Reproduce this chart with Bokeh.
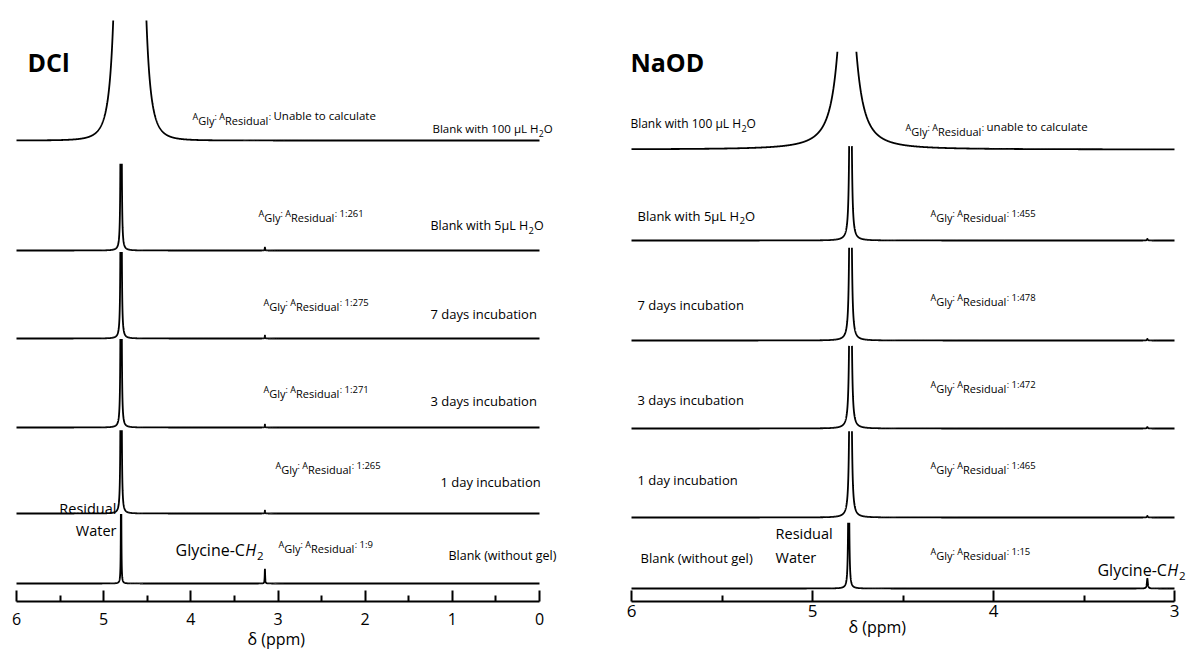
import numpy as np
from bokeh.plotting import figure
from bokeh.models import Range1d, FixedTicker, Label, Title
from bokeh.layouts import row
from bokeh.embed import file_html
from bokeh.resources import INLINE

FONT = "Open Sans"

# ---------------- data ----------------
conditions = ["Blank with 100 μL H2O", "Blank with 5μL H2O", "7 days incubation",
              "3 days incubation", "1 day incubation", "Blank (without gel)"]

# A_Gly : A_Residual integral ratios (None = could not be integrated)
dcl_ratio = [None, 261, 275, 271, 265, 9]
naod_ratio = [None, 455, 478, 472, 465, 15]

# vertical stacking offsets of each trace (intensity, a.u.)
dcl_offset = [461, 351, 263, 174, 88, 18]
naod_offset = [452, 361, 261, 173, 84, 13]

# residual water (HDO) signal
dcl_water_ppm = [4.70, 4.80, 4.80, 4.80, 4.80, 4.80]
dcl_water_height = [25000, 800, 830, 815, 800, 130]
dcl_water_hwhm = [0.052, 0.003, 0.003, 0.003, 0.003, 0.003]
dcl_water_exp = [2.0, 1.0, 1.0, 1.0, 1.0, 1.0]
dcl_visible = [120, 90, 88, 89, 86, 70]

naod_water_ppm = [4.81, 4.79, 4.79, 4.79, 4.79, 4.80]
naod_water_height = [243, 700, 720, 700, 700, 150]
naod_water_hwhm = [0.043, 0.003, 0.003, 0.003, 0.003, 0.003]
naod_water_exp = [1.0, 1.0, 1.0, 1.0, 1.0, 1.0]
naod_visible = [98, 97, 97, 86, 87, 70]

glycine_ppm = 3.15

dcl_ticks = [0, 1, 2, 3, 4, 5, 6]
dcl_minor = [0.5, 1.5, 2.5, 3.5, 4.5, 5.5]
naod_ticks = [3, 4, 5, 6]
naod_minor = [3.5, 4.5, 5.5]

# ---------------- helpers ----------------
ADV = {' ': .26, ':': .27, '-': .32, '(': .30, ')': .30, 'μ': .62,
       'A': .63, 'B': .65, 'C': .63, 'D': .73, 'G': .73, 'H': .74, 'L': .52,
       'O': .78, 'R': .63, 'U': .73, 'W': .95,
       'a': .56, 'b': .61, 'c': .48, 'd': .61, 'e': .56, 'g': .54, 'h': .615,
       'i': .26, 'k': .53, 'l': .26, 'n': .615, 'o': .60, 'r': .41, 's': .48,
       't': .35, 'u': .615, 'w': .78, 'y': .50}


def text_width(s, size):
    return sum(ADV.get(ch, .57) for ch in s) * size


def line_shape(x, center, height, hwhm, exponent):
    return height / (1.0 + ((x - center) / hwhm) ** 2) ** exponent


def ppm_grid(lo, hi, centers):
    parts = [np.linspace(hi, lo, 3001)]
    for c in centers:
        parts.append(np.linspace(c - 0.25, c + 0.25, 2501))
    g = np.unique(np.concatenate(parts))
    g = g[(g >= lo) & (g <= hi)]
    return g[::-1]


def put_text(p, x, y, text, size, style="normal", align="left", dx=0.0, dy=0.0):
    # y is the alphabetic baseline; labels are anchored on their middle
    p.add_layout(Label(x=x, y=y, x_offset=dx, y_offset=dy + 0.36 * size, text=text,
                       text_font=FONT, text_font_size=f"{size}px",
                       text_font_style=style, text_color="black",
                       text_baseline="middle", text_align=align))


def rich(p, x, y, pieces, align="left"):
    # pieces: (text, size px, vertical shift px, style)
    total = sum(text_width(t, s) for t, s, _, _ in pieces)
    dx = -total if align == "right" else 0.0
    for t, s, dy, st in pieces:
        if t.strip():
            put_text(p, x, y, t.rstrip(), s, st, "left", dx, dy)
        dx += text_width(t, s)


def condition_label(p, x, y, text, size):
    if "H2O" in text:
        head = text.replace("H2O", "H")
        pieces = [(head, size, 0, "normal"), ("2", size * 0.75, -4, "normal"),
                  ("O", size, 0, "normal")]
    else:
        pieces = [(text, size, 0, "normal")]
    rich(p, x, y, pieces)


def ratio_label(p, x, y, ratio_text, tail_size):
    pieces = [("A", 9, 0, "normal"), ("Gly", 11, -5, "normal"), (": ", 9, 0, "normal"),
              ("A", 9, 0, "normal"), ("Residual", 11, -5, "normal"), (": ", 9, 0, "normal"),
              (ratio_text, tail_size, 0, "normal")]
    rich(p, x, y, pieces)


def glycine_label(p, x, y, align):
    pieces = [("Glycine-C", 16, 0, "normal"), ("H", 16, 0, "italic"),
              ("2", 11.5, -5, "normal")]
    rich(p, x, y, pieces, align)


def make_panel(width, x_lo, x_hi, ticks, minor, label_standoff, tick_font,
               title_offset, title_standoff):
    p = figure(width=width, height=649, x_range=Range1d(x_hi, x_lo),
               y_range=Range1d(0, 601), output_backend="svg",
               toolbar_location=None, y_axis_location=None,
               min_border_left=0, min_border_right=0, min_border_top=0,
               min_border_bottom=48)
    p.xgrid.visible = False
    p.ygrid.visible = False
    p.outline_line_color = None
    p.background_fill_color = "white"
    p.border_fill_color = "white"
    ax = p.xaxis[0]
    ax.ticker = FixedTicker(ticks=ticks, minor_ticks=minor)
    ax.bounds = (min(ticks), max(ticks))
    ax.axis_line_width = 2
    ax.axis_line_color = "black"
    ax.major_tick_line_width = 2
    ax.minor_tick_line_width = 2
    ax.major_tick_in = 11
    ax.major_tick_out = 0
    ax.minor_tick_in = 6
    ax.minor_tick_out = 0
    ax.major_label_standoff = label_standoff
    ax.major_label_text_font = FONT
    ax.major_label_text_font_size = tick_font
    ax.major_label_text_color = "black"
    # axis caption as a title below the tick labels, placed under its ppm position
    cap = Title(text="δ (ppm)", align="left", offset=title_offset,
                text_font=FONT, text_font_size="16px", text_font_style="normal",
                text_color="black")
    try:
        cap.standoff = title_standoff
    except ValueError:
        cap.standoff = 0
    p.add_layout(cap, "below")
    return p


def draw_traces(p, lo, hi, offsets, w_ppm, w_h, w_hw, w_exp, visible, ratios):
    for i in range(len(offsets)):
        x = ppm_grid(lo, hi, [w_ppm[i], glycine_ppm])
        y = line_shape(x, w_ppm[i], w_h[i], w_hw[i], w_exp[i])
        if ratios[i] is not None:
            # glycine CH2 drawn with the same width, area set by the integral ratio
            g_h = w_h[i] / ratios[i]
            y = y + line_shape(x, glycine_ppm, g_h, w_hw[i], 1.0)
        y = np.where(y > visible[i], np.nan, y) + offsets[i]
        p.line(x, y, line_color="black", line_width=1.8)


# ---------------- DCl panel ----------------
left = make_panel(600, -0.6998, 6.1836, dcl_ticks, dcl_minor, 11, "16px", 247, -4)
draw_traces(left, 0.0, 6.0, dcl_offset, dcl_water_ppm, dcl_water_height,
            dcl_water_hwhm, dcl_water_exp, dcl_visible, dcl_ratio)

put_text(left, 5.874, 531, "DCl", 25, "bold")
dcl_cond_x = [1.228, 1.251, 1.251, 1.251, 1.136, 1.044]
dcl_cond_dy = [8, 21, 20, 22, 27, 24]
dcl_cond_size = [11.5, 12.5, 13, 13, 13, 12.5]
dcl_ratio_x = [3.981, 3.224, 3.166, 3.166, 3.029, 2.994]
dcl_ratio_dy = [21, 34, 33, 35, 45, 36]
for i, name in enumerate(conditions):
    condition_label(left, dcl_cond_x[i], dcl_offset[i] + dcl_cond_dy[i], name, dcl_cond_size[i])
    rt = "Unable to calculate" if dcl_ratio[i] is None else f"1:{dcl_ratio[i]}"
    ratio_label(left, dcl_ratio_x[i], dcl_offset[i] + dcl_ratio_dy[i], rt,
                11.5 if dcl_ratio[i] is None else 9.5)

put_text(left, 4.853, 88, "Residual", 14.5, align="right")
put_text(left, 4.853, 66, "Water", 14.5, align="right")
glycine_label(left, 4.176, 46, "left")

# ---------------- NaOD panel ----------------
right = make_panel(587, 2.9282, 6.1713, naod_ticks, naod_minor, 3, "17px", 248, -11)
draw_traces(right, 3.0, 6.0, naod_offset, naod_water_ppm, naod_water_height,
            naod_water_hwhm, naod_water_exp, naod_visible, naod_ratio)

put_text(right, 6.006, 531, "NaOD", 25, "bold")
naod_cond_x = [6.006, 5.967, 5.967, 5.967, 5.967, 5.950]
naod_cond_dy = [22, 20, 31, 24, 33, 26]
naod_cond_size = [12, 13, 13, 13, 13, 13]
naod_ratio_x = [4.486, 4.348, 4.348, 4.348, 4.348, 4.348]
naod_ratio_dy = [19, 24, 40, 41, 49, 34]
for i, name in enumerate(conditions):
    condition_label(right, naod_cond_x[i], naod_offset[i] + naod_cond_dy[i], name, naod_cond_size[i])
    rt = "unable to calculate" if naod_ratio[i] is None else f"1:{naod_ratio[i]}"
    ratio_label(right, naod_ratio_x[i], naod_offset[i] + naod_ratio_dy[i], rt,
                11.5 if naod_ratio[i] is None else 9.5)

put_text(right, 5.204, 63, "Residual", 14.5)
put_text(right, 5.204, 39, "Water", 14.5)
glycine_label(right, 2.939, 26, "right")

layout = row(left, right)
open("out.html", "w").write(file_html(layout, INLINE))
